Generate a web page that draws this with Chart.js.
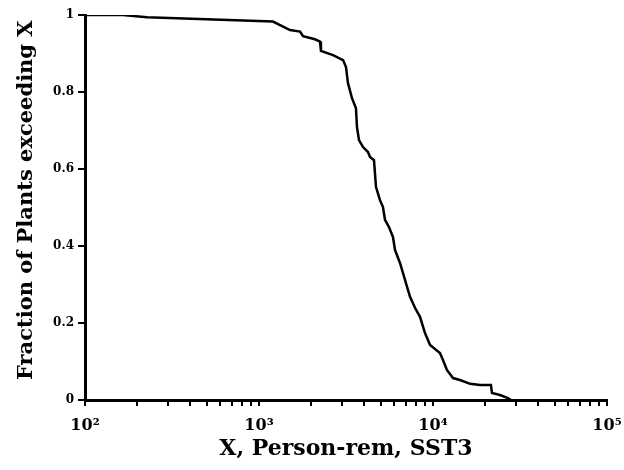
<!DOCTYPE html>
<html>
<head>
<meta charset="utf-8">
<script src="https://cdn.jsdelivr.net/npm/chart.js@4.4.0/dist/chart.umd.min.js"></script>
<style>
html,body{margin:0;padding:0;background:#fff;}
#wrap{width:624px;height:470px;position:relative;}
</style>
</head>
<body>
<div id="wrap"><canvas id="c" width="624" height="470"></canvas></div>
<script>
// Person-rem values (X) and fraction of plants exceeding X
const doseX = [100, 165, 227, 1203, 1507, 1721, 1791, 2098, 2242, 2270, 2663, 3041, 3162, 3246, 3423, 3608, 3656, 3756, 3961, 4230, 4345, 4580, 4703, 4959, 5158, 5298, 5585, 5888, 6048, 6460, 7379, 7889, 8423, 8995, 9616, 10965, 11409, 12023, 13032, 14289, 16331, 18621, 21528, 21831, 24266, 26977, 28054];
const fractionY = [1.0, 1.0, 0.994, 0.983, 0.961, 0.957, 0.945, 0.937, 0.931, 0.907, 0.896, 0.883, 0.865, 0.823, 0.784, 0.758, 0.709, 0.675, 0.657, 0.644, 0.631, 0.623, 0.553, 0.519, 0.501, 0.468, 0.449, 0.423, 0.390, 0.356, 0.268, 0.239, 0.216, 0.174, 0.143, 0.122, 0.104, 0.078, 0.057, 0.052, 0.042, 0.039, 0.039, 0.018, 0.013, 0.005, 0.0];
const xTickValues = [100,200,300,400,500,600,700,800,900,1000,2000,3000,4000,5000,6000,7000,8000,9000,10000,20000,30000,40000,50000,60000,70000,80000,90000,100000];
const xTickLabels = {100:'10²', 1000:'10³', 10000:'10⁴', 100000:'10⁵'};
const yTickValues = [0, 0.2, 0.4, 0.6, 0.8, 1];
const yTickLabels = ['0', '0.2', '0.4', '0.6', '0.8', '1'];

const pts = doseX.map((x, i) => ({x: x, y: fractionY[i]}));
const FONT = "'DejaVu Serif', 'Liberation Serif', serif";

new Chart(document.getElementById('c'), {
  type: 'line',
  data: { datasets: [{ data: pts, borderColor: '#000', borderWidth: 2.5, pointRadius: 0, tension: 0, fill: false }] },
  options: {
    responsive: false,
    animation: false,
    layout: { padding: { top: 15, right: 17, left: 14, bottom: 0 } },
    plugins: { legend: { display: false }, tooltip: { enabled: false } },
    scales: {
      x: {
        type: 'logarithmic',
        min: 100, max: 100000,
        afterBuildTicks: (s) => { s.ticks = xTickValues.map(v => ({value: v})); },
        afterFit: (s) => { s.height = 70; s.paddingLeft = 0; s.paddingRight = 0; },
        border: { display: true, color: '#000', width: 3 },
        grid: { drawOnChartArea: false, drawTicks: true, tickLength: 6, color: '#000', lineWidth: 2 },
        ticks: {
          autoSkip: false, maxRotation: 0, color: '#000', padding: 10,
          font: { family: FONT, size: 16, weight: 'bold' },
          callback: (v) => xTickLabels[v] || ''
        },
        title: { display: true, text: 'X, Person-rem, SST3', color: '#000', padding: { top: 0, bottom: 8 },
          font: { family: FONT, size: 22, weight: 'bold' } }
      },
      y: {
        type: 'linear',
        min: 0, max: 1,
        afterBuildTicks: (s) => { s.ticks = yTickValues.map(v => ({value: v})); },
        afterFit: (s) => { s.width = 71; s.paddingTop = 0; s.paddingBottom = 0; },
        border: { display: true, color: '#000', width: 3 },
        grid: { drawOnChartArea: false, drawTicks: true, tickLength: 7, color: '#000', lineWidth: 2 },
        ticks: {
          color: '#000', padding: 4,
          font: { family: FONT, size: 12, weight: 'bold' },
          callback: (v) => { const i = yTickValues.indexOf(v); return i >= 0 ? yTickLabels[i] : ''; }
        },
        title: { display: true, text: '  Fraction of Plants exceeding X', color: '#000', padding: { top: 0, bottom: 6 },
          font: { family: FONT, size: 21, weight: 'bold' } }
      }
    }
  }
});
</script>
</body>
</html>
